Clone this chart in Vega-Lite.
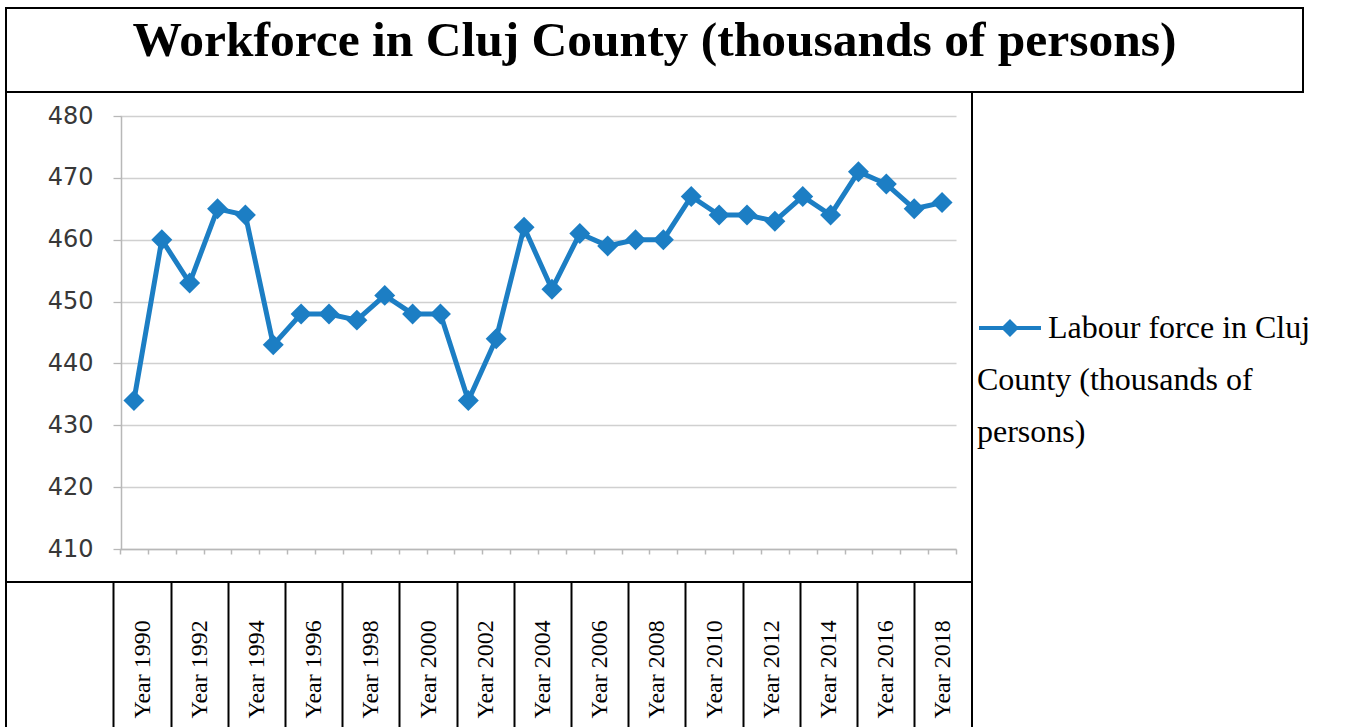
{
  "$schema": "https://vega.github.io/schema/vega-lite/v6.json",
  "padding": {"left": 5, "top": 7, "right": 0, "bottom": 0},
  "background": "white",
  "spacing": 0,
  "bounds": "flush",
  "config": {
    "view": {"stroke": "black", "strokeWidth": 2},
    "concat": {"spacing": 0}
  },
  "datasets": {
    "workforce": [
      {"year": 1990, "workforce": 434}, {"year": 1991, "workforce": 460},
      {"year": 1992, "workforce": 453}, {"year": 1993, "workforce": 465},
      {"year": 1994, "workforce": 464}, {"year": 1995, "workforce": 443},
      {"year": 1996, "workforce": 448}, {"year": 1997, "workforce": 448},
      {"year": 1998, "workforce": 447}, {"year": 1999, "workforce": 451},
      {"year": 2000, "workforce": 448}, {"year": 2001, "workforce": 448},
      {"year": 2002, "workforce": 434}, {"year": 2003, "workforce": 444},
      {"year": 2004, "workforce": 462}, {"year": 2005, "workforce": 452},
      {"year": 2006, "workforce": 461}, {"year": 2007, "workforce": 459},
      {"year": 2008, "workforce": 460}, {"year": 2009, "workforce": 460},
      {"year": 2010, "workforce": 467}, {"year": 2011, "workforce": 464},
      {"year": 2012, "workforce": 464}, {"year": 2013, "workforce": 463},
      {"year": 2014, "workforce": 467}, {"year": 2015, "workforce": 464},
      {"year": 2016, "workforce": 471}, {"year": 2017, "workforce": 469},
      {"year": 2018, "workforce": 465}, {"year": 2019, "workforce": 466}
    ]
  },
  "vconcat": [
    {
      "width": 1297,
      "height": 84,
      "view": {"stroke": "black", "strokeWidth": 2},
      "data": {"values": [{"title": "Workforce in Cluj County (thousands of persons)"}]},
      "mark": {
        "type": "text",
        "font": "Liberation Serif",
        "fontWeight": "bold",
        "fontSize": 49.5,
        "color": "black",
        "align": "center",
        "baseline": "alphabetic"
      },
      "encoding": {
        "text": {"field": "title"},
        "x": {"datum": 0.5, "type": "quantitative", "scale": {"domain": [0, 1]}, "axis": null},
        "y": {"datum": 0.43, "type": "quantitative", "scale": {"domain": [0, 1]}, "axis": null}
      }
    },
    {
      "width": 966,
      "height": 490,
      "data": {"name": "workforce"},
      "mark": {
        "type": "line",
        "strokeWidth": 5,
        "point": {"shape": "diamond", "size": 440, "filled": true, "opacity": 1}
      },
      "encoding": {
        "x": {
          "field": "year",
          "type": "quantitative",
          "scale": {"domain": [1989.5, 2019.5], "range": [114, 950], "nice": false, "zero": false},
          "axis": {
            "orient": "bottom",
            "offset": -33,
            "title": null,
            "labels": false,
            "grid": false,
            "domain": true,
            "domainColor": "#b8b8b8",
            "domainWidth": 1.5,
            "ticks": true,
            "tickSize": 5,
            "tickColor": "#b8b8b8",
            "tickWidth": 1.5,
            "values": [1989.5, 1990.5, 1991.5, 1992.5, 1993.5, 1994.5, 1995.5, 1996.5, 1997.5, 1998.5, 1999.5, 2000.5, 2001.5, 2002.5, 2003.5, 2004.5, 2005.5, 2006.5, 2007.5, 2008.5, 2009.5, 2010.5, 2011.5, 2012.5, 2013.5, 2014.5, 2015.5, 2016.5, 2017.5, 2018.5, 2019.5]
          }
        },
        "y": {
          "field": "workforce",
          "type": "quantitative",
          "scale": {"domain": [410, 480], "range": [457, 24], "nice": false, "zero": false},
          "axis": {
            "orient": "left",
            "offset": -115,
            "title": null,
            "values": [410, 420, 430, 440, 450, 460, 470, 480],
            "grid": true,
            "gridColor": "#d0d0d0",
            "gridWidth": 1.3,
            "domain": true,
            "domainColor": "#b8b8b8",
            "domainWidth": 1.5,
            "ticks": true,
            "tickSize": 8,
            "tickColor": "#b8b8b8",
            "tickWidth": 1.3,
            "labelFont": "DejaVu Sans",
            "labelFontSize": 24,
            "labelColor": "#383838",
            "labelPadding": 20
          }
        },
        "color": {
          "datum": "Labour force in Cluj County (thousands of persons)",
          "scale": {"range": ["#1c7ec4"]},
          "legend": {
            "orient": "none",
            "legendX": 971,
            "legendY": 287,
            "title": ["County (thousands of", "persons)"],
            "titleOrient": "bottom",
            "titleAnchor": "start",
            "titleFont": "Liberation Serif",
            "titleFontSize": 32,
            "titleFontWeight": "normal",
            "titleColor": "black",
            "titleLineHeight": 52,
            "titlePadding": 21,
            "titleLimit": 400,
            "labelExpr": "substring(datum.label, 0, 20)",
            "labelFont": "Liberation Serif",
            "labelFontSize": 32,
            "labelColor": "black",
            "labelOffset": 5,
            "labelLimit": 400,
            "symbolType": "M-1,0H1M0,-0.2L0.2,0L0,0.2L-0.2,0Z",
            "symbolSize": 3844,
            "symbolStrokeWidth": 4,
            "symbolStrokeColor": "#1c7ec4",
            "symbolFillColor": "#1c7ec4",
            "symbolOpacity": 1,
            "encode": {"symbols": {"update": {"fill": {"value": "#1c7ec4"}, "stroke": {"value": "#1c7ec4"}, "strokeWidth": {"value": 4}}}}
          }
        }
      }
    },
    {
      "width": 966,
      "height": 200,
      "data": {"name": "workforce"},
      "transform": [{"filter": "datum.year % 2 == 0"}],
      "mark": {"type": "text", "text": ""},
      "encoding": {
        "x": {
          "field": "year",
          "type": "ordinal",
          "scale": {"type": "band", "paddingInner": 0, "paddingOuter": 0.944, "align": 1},
          "axis": {
            "orient": "top",
            "offset": -136,
            "title": null,
            "bandPosition": 0,
            "labelOffset": 0,
            "labelAngle": -90,
            "labelAlign": "left",
            "labelBaseline": "middle",
            "labelExpr": "'Year ' + datum.label",
            "labelFont": "Liberation Serif",
            "labelFontSize": 24,
            "labelColor": "black",
            "labelPadding": 0,
            "labelOverlap": false,
            "labelBound": false,
            "ticks": false,
            "tickSize": 0,
            "domain": false,
            "grid": true,
            "gridColor": "black",
            "gridWidth": 2,
            "gridOpacity": 1
          }
        }
      }
    }
  ]
}
